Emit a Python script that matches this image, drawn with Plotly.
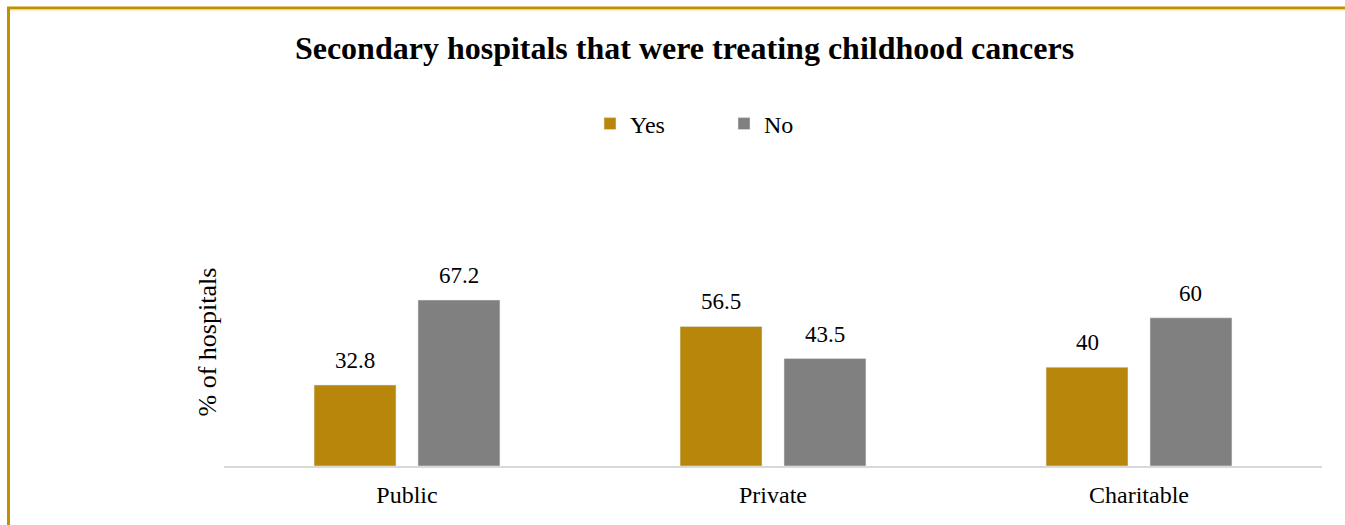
import plotly.graph_objects as go

# Share of secondary hospitals treating childhood cancers, by ownership type
categories = ["Public", "Private", "Charitable"]
yes_values = [32.8, 56.5, 40]
no_values = [67.2, 43.5, 60]

YES_COLOR = "#B8860B"
NO_COLOR = "#808080"
BORDER_COLOR = "#BF9000"
FONT = "Liberation Serif"

W, H = 1345, 525
M_L, M_R, M_T, M_B = 224, 23, 219, 59
PLOT_W = W - M_L - M_R
PLOT_H = H - M_T - M_B


def px_to_paper_x(px):
    return (px - M_L) / PLOT_W


def px_to_paper_y(py):
    return (H - M_B - py) / PLOT_H


fig = go.Figure()
fig.add_trace(go.Bar(name="Yes", x=categories, y=yes_values, marker_color=YES_COLOR))
fig.add_trace(go.Bar(name="No", x=categories, y=no_values, marker_color=NO_COLOR))

# Value labels above each bar
slot = PLOT_W / len(categories) * (1 - 0.432) / 2
annotations = []
for vals, shift in ((yes_values, -slot / 2), (no_values, slot / 2)):
    for cat, v in zip(categories, vals):
        annotations.append(dict(
            x=cat, y=v, xref="x", yref="y", text=f"{v:g}", showarrow=False,
            xshift=shift, yshift=10, yanchor="bottom",
            font=dict(family=FONT, size=23, color="#000000"),
        ))

# Vertical axis title
annotations.append(dict(
    x=px_to_paper_x(207), y=0.5, xref="paper", yref="paper",
    text="% of hospitals", textangle=-90, showarrow=False,
    xanchor="center", yanchor="middle",
    font=dict(family=FONT, size=26, color="#000000"),
))

# Chart frame along the left and top edges
shapes = [
    dict(type="line", xref="paper", yref="paper",
         x0=px_to_paper_x(8.5), x1=px_to_paper_x(8.5),
         y0=px_to_paper_y(7), y1=px_to_paper_y(H + 5),
         line=dict(color=BORDER_COLOR, width=3)),
    dict(type="line", xref="paper", yref="paper",
         x0=px_to_paper_x(7), x1=px_to_paper_x(W + 5),
         y0=px_to_paper_y(8), y1=px_to_paper_y(8),
         line=dict(color=BORDER_COLOR, width=3)),
    dict(type="line", xref="paper", yref="paper",
         x0=px_to_paper_x(10), x1=px_to_paper_x(W + 5),
         y0=px_to_paper_y(10), y1=px_to_paper_y(10),
         line=dict(color="#F3E2A9", width=1)),
]

fig.update_layout(
    width=W, height=H,
    margin=dict(l=M_L, r=M_R, t=M_T, b=M_B, pad=0),
    paper_bgcolor="white", plot_bgcolor="white",
    barmode="group", bargap=0.432, bargroupgap=0.2115,
    font=dict(family=FONT, color="#000000"),
    title=dict(
        text="<b>Secondary hospitals that were treating childhood cancers</b>",
        x=px_to_paper_x(684.5), xref="paper", xanchor="center",
        y=1 - 48 / H, yref="container", yanchor="middle",
        font=dict(family=FONT, size=32, color="#000000"),
    ),
    legend=dict(
        orientation="h", x=px_to_paper_x(724), y=1 - 124 / H,
        xref="paper", yref="container", xanchor="center", yanchor="middle",
        font=dict(family=FONT, size=24, color="#000000"),
        itemwidth=30, entrywidth=89, entrywidthmode="pixels",
        bgcolor="rgba(0,0,0,0)",
    ),
    xaxis=dict(
        showline=True, linecolor="#D9D9D9", linewidth=2,
        showgrid=False, ticks="", ticklabelstandoff=6,
        tickfont=dict(family=FONT, size=24, color="#000000"),
    ),
    yaxis=dict(
        range=[0, 100], showgrid=False, showticklabels=False,
        zeroline=False, showline=False,
    ),
    annotations=annotations,
    shapes=shapes,
    showlegend=True,
)

fig.write_html("out.html")
